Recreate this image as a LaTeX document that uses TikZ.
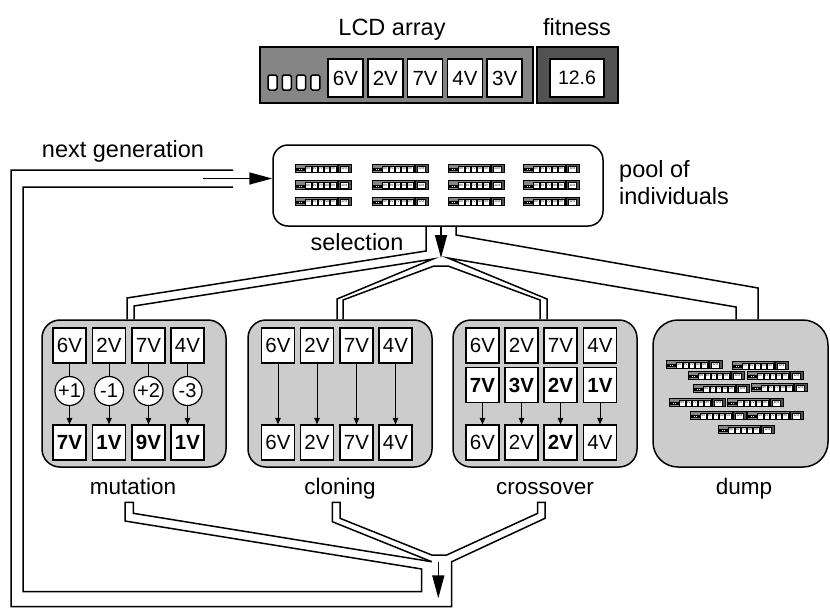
\documentclass[tikz,border=0pt]{standalone}
\usepackage{fontspec}
\setmainfont{Liberation Sans}
\usetikzlibrary{arrows.meta}

\definecolor{lcdgray}{gray}{0.52}
\definecolor{fitgray}{gray}{0.32}
\definecolor{opgray}{gray}{0.80}

\tikzset{
  indiv line/.style={line width=1.5},
  seg round/.style={rounded corners=1.5},
  lcdframe/.style={draw, fill=lcdgray, indiv line},
  fitframe/.style={draw, fill=fitgray, indiv line},
  segbox/.style={draw, fill=white, indiv line, seg round},
  lcdcell/.style={draw, fill=white, indiv line, inner sep=0,
    minimum width=35, minimum height=38, font=\fontsize{20.5}{23}\selectfont},
  % one individual: LCD segment array plus its fitness display
  pics/indiv/.style={code={
    \draw[lcdframe] (0,0) rectangle (273,56);
    \foreach \i in {0,1,2,3}
      \draw[segbox] (8+14.3*\i,28) rectangle ++(9,15);
    \foreach \v [count=\k from 0] in {6V,2V,7V,4V,3V}
      \node[lcdcell] (-c\k) at (85.5+39.8*\k,31) {\v};
    \draw[fitframe] (277,0) rectangle (358,56);
    \node[lcdcell, minimum width=54, font=\fontsize{19.5}{22}\selectfont]
      (-fit) at (317,31) {12.6};
  }},
  mini/.style={scale=0.156, transform shape,
    indiv line/.style={line width=0.6}, seg round/.style={}},
  label/.style={font=\fontsize{23.5}{27}\selectfont, inner sep=0},
  oplabel/.style={font=\fontsize{22.5}{26}\selectfont, inner sep=0},
  opbox/.style={draw, fill=opgray, line width=1.5, rounded corners=18,
    minimum width=184, minimum height=147, inner sep=0},
  gene/.style={draw, fill=white, line width=1.2, inner sep=0,
    minimum width=33, minimum height=35, font=\fontsize{20.5}{23}\selectfont},
  bgene/.style={gene, font=\fontsize{20.5}{23}\selectfont\bfseries},
  delta/.style={draw, fill=white, circle, line width=1.2, inner sep=0,
    minimum size=29, font=\fontsize{20}{23}\selectfont},
  small arrow/.style={line width=1, -{Triangle[length=6.5,width=5.5]}},
  tube/.style={line width=1.5, line join=miter},
  big arrow/.style={line width=1.5, -{Triangle[length=23,width=12]}},
}

\begin{document}
\begin{tikzpicture}[x=1pt, y=-1pt]
\useasboundingbox (0,0) rectangle (830,608);

% ---------- one individual, full size ----------
\pic (lcd) at (260,47) {indiv};
\node[label, anchor=base] (lcdlabel) at (392,35) {LCD array};
\node[label, anchor=base] (fitlabel) at (577,35) {fitness};

% ---------- pool of individuals ----------
\node[draw, line width=1.5, rounded corners=15, minimum width=330,
      minimum height=81, inner sep=0] (pool) at (438,185.5) {};
\foreach \px in {295,372,448,523}
  \foreach \py in {164,180.5,197}
    \pic[mini] at (\px,\py) {indiv};
\node[label, anchor=base west] (poollabel) at (619,177) {pool of};
\node[label, anchor=base west] (indlabel) at (619,204) {individuals};
\node[label, anchor=base] (sellabel) at (357,250) {selection};
\node[label, anchor=base] (nextlabel) at (123,157) {next generation};

% ---------- operator boxes ----------
\node[opbox] (mut) at (134,393.5) {};
\node[opbox] (clo) at (340,393.5) {};
\node[opbox] (cro) at (545,393.5) {};
\node[opbox, rounded corners=25, minimum width=175] (dump) at (740.5,393.5) {};

\node[oplabel, anchor=base] (mutlabel) at (133,494) {mutation};
\node[oplabel, anchor=base] (clolabel) at (340,494) {cloning};
\node[oplabel, anchor=base] (crolabel) at (545,494) {crossover};
\node[oplabel, anchor=base] (dumplabel) at (744,494) {dump};

% mutation: gene, offset, mutated gene
\foreach \x/\a/\d/\b [count=\k] in
    {69.5/6V/+1/7V, 109/2V/-1/1V, 148.5/7V/+2/9V, 187.5/4V/-3/1V} {
  \node[gene]  (mt\k) at (\x,345.5) {\a};
  \node[delta] (md\k) at (\x,391)   {\d};
  \node[bgene] (mb\k) at (\x,442.5) {\b};
  \draw[line width=1] (mt\k) -- (md\k);
  \draw[small arrow] (md\k) -- (mb\k);
}

% cloning: genes copied unchanged
\foreach \x/\a [count=\k] in {278/6V, 317/2V, 356.5/7V, 395.5/4V} {
  \node[gene] (ct\k) at (\x,345.5) {\a};
  \node[gene] (cb\k) at (\x,442.5) {\a};
  \draw[small arrow] (ct\k) -- (cb\k);
}

% crossover: two parents, one child
\node[gene]  (xt1) at (482.5,345.5) {6V};
\node[gene]  (xt2) at (521.5,345.5) {2V};
\node[gene]  (xt3) at (560.5,345.5) {7V};
\node[gene]  (xt4) at (600,345.5)   {4V};
\node[bgene] (xm1) at (482.5,385)   {7V};
\node[bgene] (xm2) at (521.5,385)   {3V};
\node[bgene] (xm3) at (560.5,385)   {2V};
\node[bgene] (xm4) at (600,385)     {1V};
\node[gene]  (xb1) at (482.5,442.5) {6V};
\node[gene]  (xb2) at (521.5,442.5) {2V};
\node[bgene] (xb3) at (560.5,442.5) {2V};
\node[gene]  (xb4) at (600,442.5)   {4V};
\foreach \k in {1,2,3,4}
  \draw[small arrow] (xm\k) -- (xb\k);

% discarded individuals
\foreach \px/\py in {666/360, 732/361, 688/371, 747/371, 693/384, 751/383,
                     669/398, 727/398, 690/411, 747/411, 718/425}
  \pic[mini] at (\px,\py) {indiv};

% ---------- selection: pipes from the pool to the operators ----------
\coordinate (selhub) at (441,258);
\draw[big arrow] (pool.south -| selhub) -- (selhub);
\draw[tube] (pool.south -| 426,0) -- (426,251) -- (127,298) -- (mut.north -| 127,0);
\draw[tube] (mut.north -| 134,0) -- (134,306) -- (433,259) -- (337,299)
            -- (clo.north -| 337,0);
\draw[tube] (clo.north -| 343,0) -- (343,300) -- (434,266) -- (448,266)
            -- (540,300) -- (cro.north -| 540,0);
\draw[tube] (cro.north -| 547,0) -- (547,299) -- (448,258) -- (736,307)
            -- (dump.north -| 736,0);
\draw[tube] (pool.south -| 456,0) -- (456,235) -- (758,288) -- (dump.north -| 758,0);

% ---------- next generation: pipes back to the pool ----------
\coordinate (nexthub) at (438.3,598.3);
\draw[tube] (431.7,561.7) -- (133.3,513.3) -- (133.3,502.3) -- (125,502.3)
            -- (125,521) -- (421.7,569) -- (421.7,591.7) -- (23,591.7)
            -- (23,187) -- (233,187);
\draw[tube] (431.7,561.7) -- (332.3,521.7) -- (332.3,502.3) -- (340,502.3)
            -- (340,518.3) -- (431.7,555) -- (446.7,555) -- (537.7,513.3)
            -- (537.7,502.3) -- (545,502.3) -- (545,518.3) -- (451.7,561.7)
            -- (451.7,606.7) -- (11,606.7) -- (11,170) -- (233,170);
\draw[big arrow] (nexthub |- 0,561.7) -- (nexthub);
\draw[big arrow] (203,178.5) -- (pool.west |- 0,178.5);
\end{tikzpicture}
\end{document}
